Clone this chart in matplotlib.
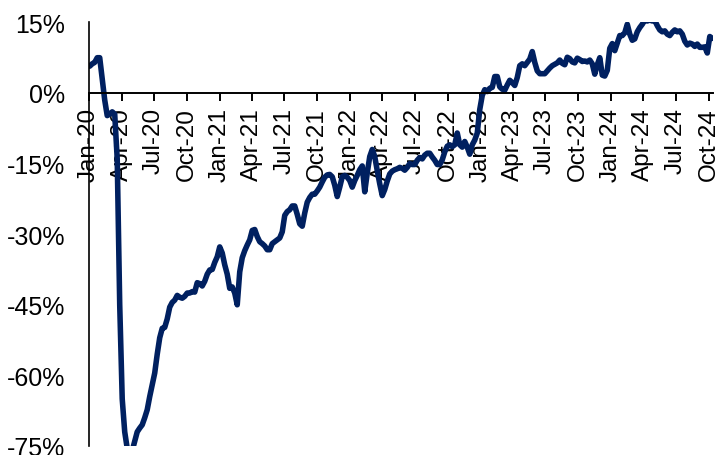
import pandas as pd
import matplotlib.pyplot as plt
import matplotlib.dates as mdates
from matplotlib.ticker import FuncFormatter

# weekly y/y change (%), split by calendar year
yoy_2020 = [5.7, 6.2, 6.5, 7.5, 7.5, 3.0, -1.5, -4.8, -4.5, -4.0, -4.5, -14.0, -45.0,
            -65.0, -72.0, -75.5, -76.0, -76.0, -74.0, -72.0, -71.2, -70.5, -69.0, -67.3,
            -64.5, -62.0, -59.5, -55.5, -52.0, -50.0, -49.8, -48.0, -45.5, -44.5, -44.0,
            -43.0, -43.4, -43.6, -43.2, -42.5, -42.5, -42.2, -42.3, -40.3, -40.5, -41.0,
            -40.0, -38.5, -37.6, -37.5, -36.0, -34.8]
yoy_2021 = [-32.7, -34.0, -36.5, -38.5, -41.5, -41.2, -42.5, -45.0, -38.0, -35.0, -33.5,
            -32.3, -31.2, -29.2, -29.0, -30.5, -31.6, -32.0, -32.5, -33.3, -33.3, -32.0,
            -31.6, -31.2, -30.8, -29.5, -26.0, -25.2, -24.8, -24.0, -24.0, -25.8, -27.8,
            -28.3, -25.5, -23.2, -22.2, -21.5, -21.5, -20.8, -20.0, -18.9, -17.9, -17.4,
            -17.3, -17.8, -19.6, -22.0, -20.0, -17.8, -17.5, -17.9, -18.6]
yoy_2022 = [-20.0, -18.6, -17.5, -16.3, -15.5, -21.0, -17.0, -13.5, -12.0, -13.5, -16.5,
            -19.3, -21.8, -20.5, -18.7, -17.2, -16.6, -16.3, -16.1, -15.8, -16.0, -16.4,
            -15.8, -15.0, -15.2, -15.2, -14.3, -13.7, -14.0, -13.2, -12.8, -12.8, -13.6,
            -14.3, -15.2, -15.2, -14.2, -12.5, -11.3, -11.0, -11.4, -11.0, -8.5, -11.0,
            -11.5, -10.3, -11.5, -13.0, -11.0, -10.0, -8.5, -3.5]
yoy_2023 = [-0.5, 0.7, 0.3, 1.0, 1.2, 3.5, 3.5, 1.3, 0.8, 0.6, 1.7, 2.7, 2.2, 1.6, 3.3,
            5.8, 6.2, 5.8, 6.5, 7.2, 8.8, 6.5, 4.7, 4.1, 4.1, 4.1, 4.7, 5.3, 5.8, 6.1, 6.4,
            7.0, 6.3, 6.0, 7.6, 7.3, 6.6, 6.4, 7.4, 7.1, 6.7, 6.8, 6.6, 7.0, 6.2, 4.0, 6.0,
            7.5, 3.8, 3.6, 4.8, 9.5]
yoy_2024 = [10.5, 9.0, 10.6, 12.2, 12.2, 12.8, 14.6, 12.5, 11.2, 11.5, 13.0, 13.9, 14.6,
            15.5, 15.3, 15.5, 15.3, 15.4, 14.3, 13.4, 13.0, 13.2, 12.5, 12.2, 12.9, 13.4,
            13.0, 13.2, 12.5, 11.0, 10.2, 10.6, 10.4, 9.9, 10.4, 9.7, 9.7, 9.8, 8.5, 12.0,
            11.6]

quarter_ticks = pd.date_range("2020-01-01", "2024-10-01", freq="QS")
y_ticks = [15, 0, -15, -30, -45, -60, -75]


def main():
    values = yoy_2020 + yoy_2021 + yoy_2022 + yoy_2023 + yoy_2024
    dates = pd.date_range("2020-01-03", periods=len(values), freq="W-FRI")

    plt.rcParams["font.family"] = ["Liberation Sans", "DejaVu Sans"]
    fig = plt.figure(figsize=(7.19, 4.56), dpi=100)
    ax = fig.add_axes([89 / 719, 9 / 456, 624 / 719, 423.6 / 456])

    ax.plot(dates, values, color="#002060", lw=4.0, solid_joinstyle="round",
            solid_capstyle="round")

    ax.set_ylim(-75, 15)
    ax.set_yticks(y_ticks)
    ax.yaxis.set_major_formatter(FuncFormatter(lambda v, p: f"{v:.0f}%"))
    ax.set_xlim(pd.Timestamp("2020-01-01"), pd.Timestamp("2024-10-13"))
    ax.set_xticks(quarter_ticks)
    ax.xaxis.set_major_formatter(mdates.DateFormatter("%b-%y"))

    ax.spines["top"].set_visible(False)
    ax.spines["right"].set_visible(False)
    ax.spines["bottom"].set_position(("data", 0))
    ax.spines["bottom"].set_linewidth(1.4)
    ax.spines["left"].set_linewidth(1.2)

    ax.tick_params(axis="y", length=0, pad=17, labelsize=18)
    ax.tick_params(axis="x", direction="out", length=6, width=1.4, pad=4,
                   labelsize=17.5, labelrotation=90)

    fig.savefig("out.png", dpi=100)


main()
